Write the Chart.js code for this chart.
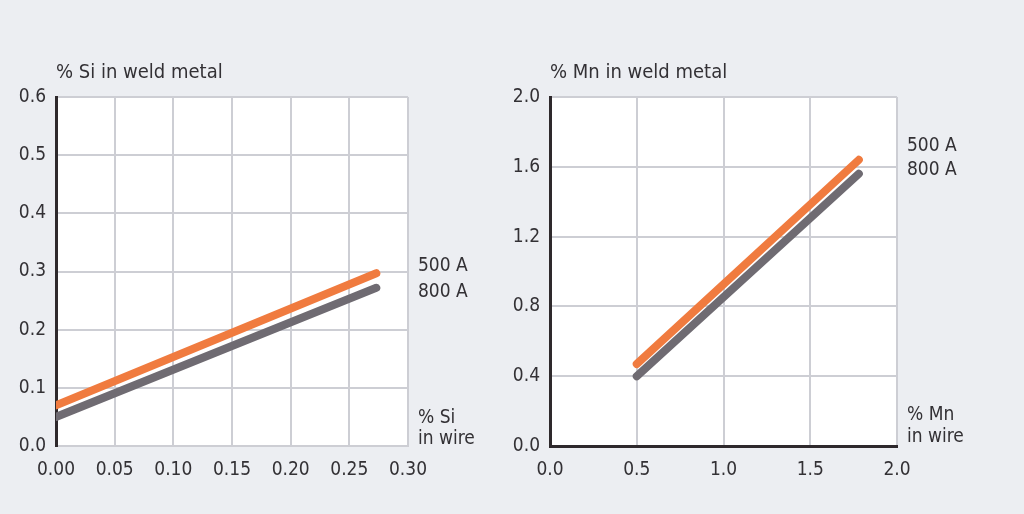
<!DOCTYPE html>
<html>
<head>
<meta charset="utf-8">
<script src="https://cdn.jsdelivr.net/npm/chart.js@4/dist/chart.umd.min.js"></script>
<style>
  html, body { margin: 0; padding: 0; background: #eceef2; }
  #wrap { position: relative; width: 1024px; height: 514px; overflow: hidden; }
  #siChart { position: absolute; left: 0; top: 0; }
  #mnChart { position: absolute; left: 500px; top: 0; }
</style>
</head>
<body>
<div id="wrap">
  <canvas id="siChart" width="500" height="514"></canvas>
  <canvas id="mnChart" width="524" height="514"></canvas>
</div>
<script>
// Si chart data
const siWire = [0, 0.273];
const si500 = [0.07, 0.297];
const si800 = [0.05, 0.272];
const siXTicks = [0, 0.05, 0.10, 0.15, 0.20, 0.25, 0.30];
const siXLabels = ['0.00', '0.05', '0.10', '0.15', '0.20', '0.25', '0.30'];
const siYTicks = [0, 0.1, 0.2, 0.3, 0.4, 0.5, 0.6];
const siYLabels = ['0.0', '0.1', '0.2', '0.3', '0.4', '0.5', '0.6'];

// Mn chart data
const mnWire = [0.5, 1.78];
const mn500 = [0.47, 1.64];
const mn800 = [0.40, 1.56];
const mnXTicks = [0, 0.5, 1.0, 1.5, 2.0];
const mnXLabels = ['0.0', '0.5', '1.0', '1.5', '2.0'];
const mnYTicks = [0, 0.4, 0.8, 1.2, 1.6, 2.0];
const mnYLabels = ['0.0', '0.4', '0.8', '1.2', '1.6', '2.0'];

const seriesNames = ['500 A', '800 A'];

const FONT = '"DejaVu Sans Condensed", "DejaVu Sans", sans-serif';
const TEXT = '#333135';
const GRID = '#cdced4';
const AXIS = '#2e292c';
const ORANGE = '#f07b3f';
const GREY = '#6f6b72';

function pts(xs, ys) {
  return xs.map((x, i) => ({ x: x, y: ys[i] }));
}

// white plot area + texts around the plot
const plotDeco = {
  id: 'plotDeco',
  beforeDraw(chart) {
    const a = chart.chartArea;
    const ctx = chart.ctx;
    ctx.save();
    ctx.fillStyle = '#ffffff';
    ctx.fillRect(a.left, a.top, a.right - a.left, a.bottom - a.top);
    ctx.restore();
  },
  afterDraw(chart, args, opts) {
    const a = chart.chartArea;
    const ctx = chart.ctx;
    ctx.save();
    ctx.fillStyle = TEXT;
    ctx.textBaseline = 'middle';
    ctx.textAlign = 'left';
    ctx.font = '20px ' + FONT;
    ctx.fillText(opts.title, a.left, 73);
    ctx.font = '19px ' + FONT;
    const lx = a.right + 10;
    ctx.fillText(seriesNames[0], lx, a.top + opts.s1);
    ctx.fillText(seriesNames[1], lx, a.top + opts.s2);
    ctx.fillText(opts.xname, lx, a.bottom - opts.x1);
    ctx.fillText('in wire', lx, a.bottom - opts.x2);
    ctx.restore();
  }
};

function makeChart(el, d, cfg) {
  return new Chart(el, {
    type: 'scatter',
    data: {
      datasets: [
        { label: seriesNames[1], data: pts(d.wire, d.s800), showLine: true, borderColor: GREY, borderWidth: 8, borderCapStyle: 'round', pointRadius: 0 },
        { label: seriesNames[0], data: pts(d.wire, d.s500), showLine: true, borderColor: ORANGE, borderWidth: 8, borderCapStyle: 'round', pointRadius: 0 }
      ]
    },
    options: {
      responsive: false,
      animation: false,
      layout: { padding: { top: 97, right: cfg.right, bottom: 28, left: cfg.left } },
      plugins: {
        legend: { display: false },
        tooltip: { enabled: false },
        plotDeco: cfg.deco
      },
      scales: {
        x: {
          type: 'linear',
          min: d.xt[0], max: d.xt[d.xt.length - 1],
          afterBuildTicks: s => { s.ticks = d.xt.map(v => ({ value: v })); },
          afterFit: s => { s.height = 40; },
          grid: { color: GRID, lineWidth: 2, drawTicks: false },
          border: { color: cfg.xBorder, width: cfg.xBorderWidth },
          ticks: { padding: 13, color: TEXT, font: { family: FONT, size: 19 }, maxRotation: 0, autoSkip: false,
            callback: (v, i) => d.xl[i] }
        },
        y: {
          type: 'linear',
          min: d.yt[0], max: d.yt[d.yt.length - 1],
          afterBuildTicks: s => { s.ticks = d.yt.map(v => ({ value: v })); },
          afterFit: s => { s.width = cfg.yWidth; },
          grid: { color: GRID, lineWidth: 2, drawTicks: false },
          border: { color: AXIS, width: 3 },
          ticks: { padding: 10, color: TEXT, font: { family: FONT, size: 19 }, autoSkip: false,
            callback: (v, i) => d.yl[i] }
        }
      }
    },
    plugins: [plotDeco]
  });
}

makeChart(document.getElementById('siChart'),
  { wire: siWire, s500: si500, s800: si800, xt: siXTicks, xl: siXLabels, yt: siYTicks, yl: siYLabels },
  { left: 0, right: 92, yWidth: 56, xBorder: GRID, xBorderWidth: 2,
    deco: { title: '% Si in weld metal', xname: '% Si', s1: 169, s2: 195, x1: 28, x2: 7 } });

makeChart(document.getElementById('mnChart'),
  { wire: mnWire, s500: mn500, s800: mn800, xt: mnXTicks, xl: mnXLabels, yt: mnYTicks, yl: mnYLabels },
  { left: 0, right: 127, yWidth: 50, xBorder: AXIS, xBorderWidth: 3,
    deco: { title: '% Mn in weld metal', xname: '% Mn', s1: 49, s2: 73, x1: 31, x2: 9 } });
</script>
</body>
</html>
